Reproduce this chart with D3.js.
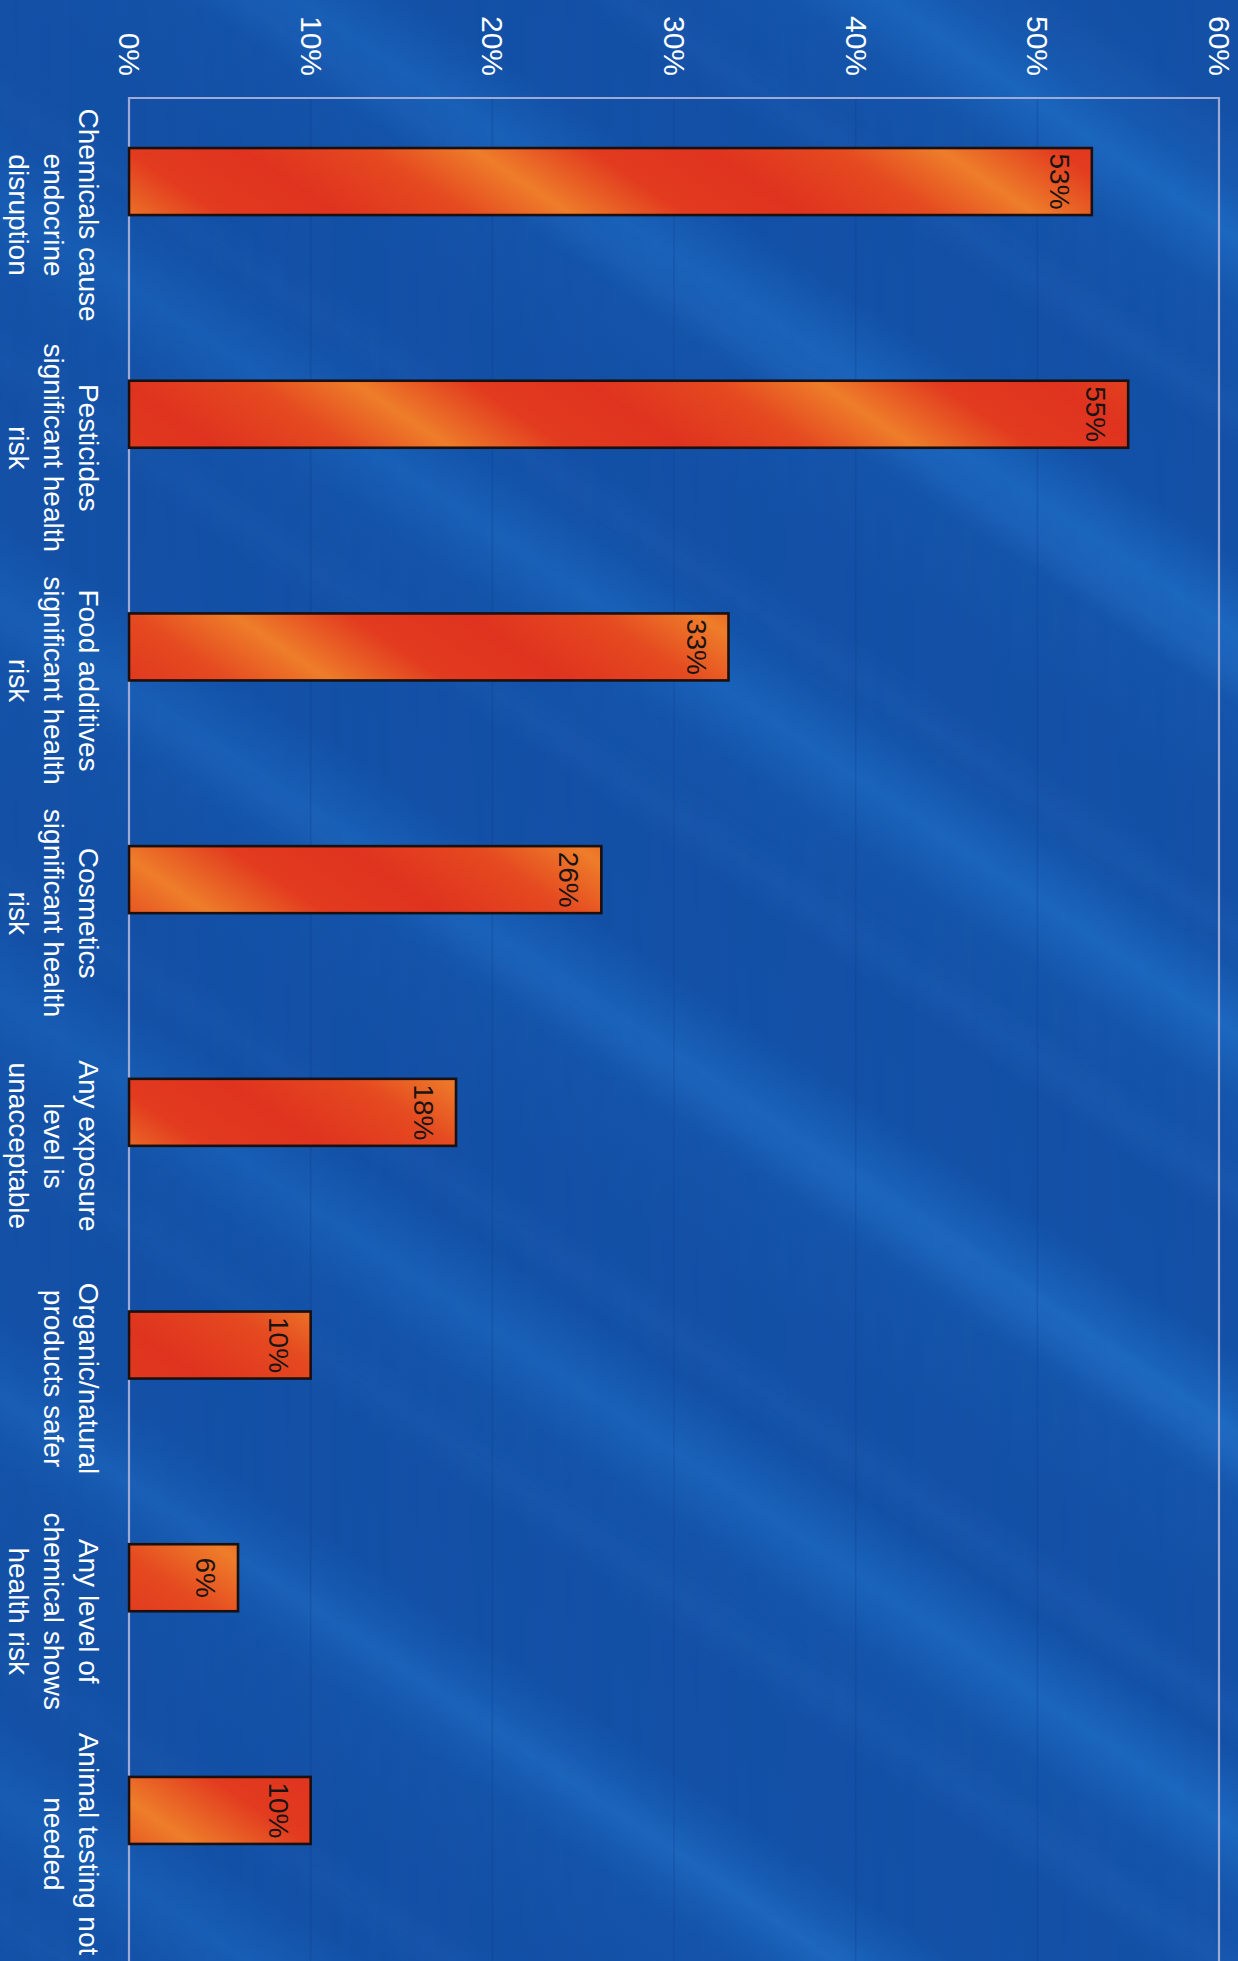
<!DOCTYPE html>
<html>
<head>
<meta charset="utf-8">
<script src="https://cdn.jsdelivr.net/npm/d3@7"></script>
<style>
  html, body { margin: 0; padding: 0; background: #1452a8; }
  svg { display: block; }
</style>
</head>
<body>
<div id="chart"></div>
<script>
// ---- data ----
const categories = [
  "Chemicals cause endocrine disruption",
  "Pesticides significant health risk",
  "Food additives significant health risk",
  "Cosmetics significant health risk",
  "Any exposure level is unacceptable",
  "Organic/natural products safer",
  "Any level of chemical shows health risk",
  "Animal testing not needed"
];
const categoryLines = [
  ["Chemicals cause", "endocrine", "disruption"],
  ["Pesticides", "significant health", "risk"],
  ["Food additives", "significant health", "risk"],
  ["Cosmetics", "significant health", "risk"],
  ["Any exposure", "level is", "unacceptable"],
  ["Organic/natural", "products safer"],
  ["Any level of", "chemical shows", "health risk"],
  ["Animal testing not", "needed"]
];
const values = [53, 55, 33, 26, 18, 10, 6, 10];
const valueTicks = [0, 10, 20, 30, 40, 50, 60];

// ---- layout ----
const W = 1238, H = 1961;
const FONT = "'Liberation Sans', Arial, Helvetica, sans-serif";

const svg = d3.select("#chart").append("svg")
  .attr("width", W).attr("height", H)
  .attr("viewBox", `0 0 ${W} ${H}`);

const x = d3.scaleLinear().domain([0, 60]).range([129, 1219]);
const y = d3.scaleBand().domain(categories).range([98, 1961])
  .paddingInner(0.424).paddingOuter(0.215);
const barH = y.bandwidth() / 2;

// ---- gradients (soft diagonal streak texture) ----
const defs = svg.append("defs");
function streak(id, period, ox, oy, stops) {
  const dx = -0.56, dy = 0.83;
  const g = defs.append("linearGradient").attr("id", id)
    .attr("gradientUnits", "userSpaceOnUse")
    .attr("spreadMethod", "repeat")
    .attr("x1", ox).attr("y1", oy)
    .attr("x2", ox + dx * period).attr("y2", oy + dy * period);
  stops.forEach(s => g.append("stop").attr("offset", s[0])
    .attr("stop-color", s[1]).attr("stop-opacity", s[2] == null ? 1 : s[2]));
}
streak("bgA", 330, 0, 0, [
  [0, "#1350a6"], [0.3, "#1351a7"], [0.5, "#1c68bf"], [0.68, "#1555ab"], [1, "#1350a6"]
]);
streak("bgB", 215, 90, 30, [
  [0, "#5aa8ff", 0], [0.35, "#5aa8ff", 0], [0.5, "#5aa8ff", 0.07], [0.65, "#5aa8ff", 0], [1, "#5aa8ff", 0]
]);
streak("barA", 260, 20, 0, [
  [0, "#df331f"], [0.25, "#e23b1f"], [0.5, "#ee7d2a"], [0.72, "#e54a20"], [1, "#df331f"]
]);

// right-side emphasis mask for streaks
const mg = defs.append("linearGradient").attr("id", "fadeX")
  .attr("x1", 0).attr("y1", 0).attr("x2", 1).attr("y2", 0);
mg.append("stop").attr("offset", 0).attr("stop-color", "#fff").attr("stop-opacity", 0.5);
mg.append("stop").attr("offset", 1).attr("stop-color", "#fff").attr("stop-opacity", 1);
defs.append("mask").attr("id", "streakMask")
  .append("rect").attr("width", W).attr("height", H).attr("fill", "url(#fadeX)");

// ---- background ----
svg.append("rect").attr("width", W).attr("height", H).attr("fill", "#1350a6");
svg.append("rect").attr("width", W).attr("height", H).attr("fill", "url(#bgA)")
  .attr("mask", "url(#streakMask)");
svg.append("rect").attr("width", W).attr("height", H).attr("fill", "url(#bgB)")
  .attr("mask", "url(#streakMask)");

// ---- gridlines ----
svg.append("g").selectAll("line")
  .data(valueTicks.filter(d => d > 0 && d < 60))
  .join("line")
  .attr("x1", d => x(d)).attr("x2", d => x(d))
  .attr("y1", 98).attr("y2", H)
  .attr("stroke", "#0c3f8f").attr("stroke-opacity", 0.3).attr("stroke-width", 1.5);

// ---- frame ----
svg.append("path")
  .attr("d", `M${x(0)},${H} V98 H${x(60)} V${H}`)
  .attr("fill", "none")
  .attr("stroke", "#9eaad6").attr("stroke-width", 2.2);

// ---- value axis (top, rotated labels) ----
const axis = d3.axisTop(x).tickValues(valueTicks)
  .tickFormat(d => d + "%").tickSize(0).tickPadding(0);
const axG = svg.append("g").attr("transform", "translate(0,98)").call(axis);
axG.select(".domain").remove();
axG.selectAll("text")
  .attr("transform", "rotate(90)")
  .attr("x", -22).attr("y", 0).attr("dy", "0.35em")
  .attr("text-anchor", "end")
  .attr("fill", "#ffffff")
  .style("font-family", FONT).style("font-size", "30px");

// ---- bars ----
svg.append("g").selectAll("rect")
  .data(values)
  .join("rect")
  .attr("x", x(0))
  .attr("y", (d, i) => y(categories[i]))
  .attr("width", d => x(d) - x(0))
  .attr("height", barH)
  .attr("fill", "url(#barA)")
  .attr("stroke", "#1a1010").attr("stroke-width", 2.6);

// ---- value labels ----
svg.append("g").selectAll("text")
  .data(values)
  .join("text")
  .attr("transform", (d, i) =>
    `translate(${x(d) - 42},${y(categories[i]) + barH / 2}) rotate(90)`)
  .attr("text-anchor", "middle")
  .attr("fill", "#1a1414")
  .style("font-family", FONT).style("font-size", "28px")
  .text(d => d + "%");

// ---- category labels ----
const cl = svg.append("g").selectAll("text")
  .data(categories)
  .join("text")
  .attr("transform", d =>
    `translate(79,${y(d) + y.bandwidth() / 2}) rotate(90)`)
  .attr("text-anchor", "middle")
  .attr("fill", "#ffffff")
  .style("font-family", FONT).style("font-size", "28px");
cl.each(function(d, i) {
  const t = d3.select(this);
  categoryLines[i].forEach((line, j) => {
    t.append("tspan").attr("x", 0).attr("y", j * 35).text(line);
  });
});
</script>
</body>
</html>
